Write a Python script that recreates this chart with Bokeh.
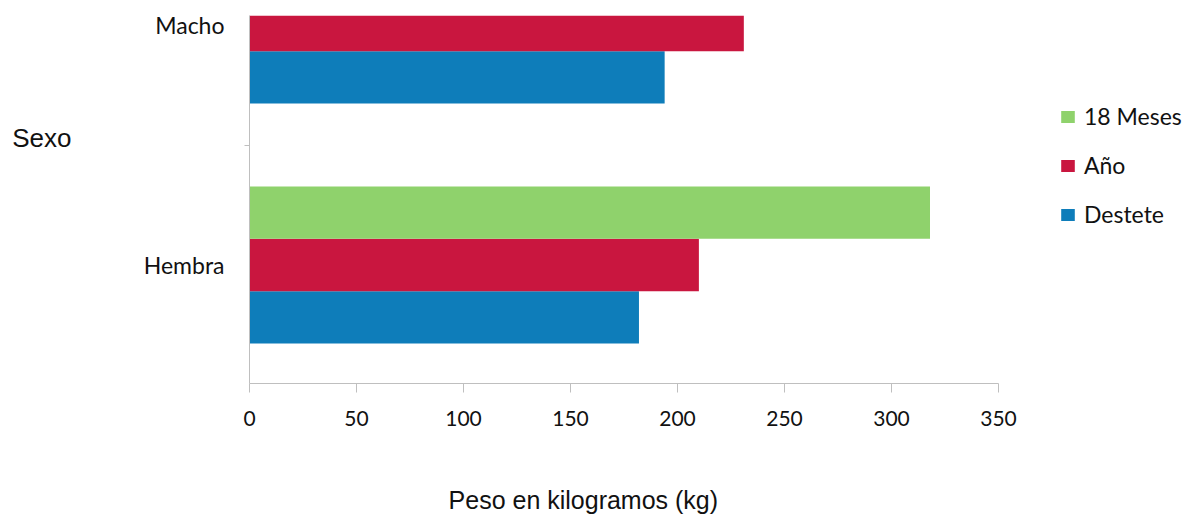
import numpy as np
from bokeh.plotting import figure
from bokeh.models import Range1d, FixedTicker, Legend, LegendItem, LinearAxis
from bokeh.embed import file_html
from bokeh.resources import INLINE

# ---- data ----
categories = ["Hembra", "Macho"]
destete = [182, 194]
anio = [210, 231]
meses18 = [318, float("nan")]  # Macho value lies outside the visible area
x_ticks = [0, 50, 100, 150, 200, 250, 300, 350]
y_title = "Sexo"
x_title = "Peso en kilogramos (kg)"

GREEN = "#8FD26C"
RED = "#C9163F"
BLUE = "#0E7DBA"
CAL = "Lato"
ARIAL = "Liberation Sans"

p = figure(width=1191, height=517, output_backend="svg", toolbar_location=None,
           x_range=Range1d(0, 440.2), y_range=Range1d(-0.494, 1.040),
           min_border_left=249, min_border_right=0, min_border_top=15,
           min_border_bottom=134)
p.outline_line_color = None
p.xgrid.visible = False
p.ygrid.visible = False
p.background_fill_color = "white"
p.border_fill_color = "white"

idx = np.arange(len(categories))
bh = 0.218
r_d = p.hbar(y=idx - bh, left=0, right=destete, height=bh, fill_color=BLUE, line_color=None)
r_a = p.hbar(y=idx, left=0, right=anio, height=bh, fill_color=RED, line_color=None)
r_m = p.hbar(y=idx + bh, left=0, right=meses18, height=bh, fill_color=GREEN, line_color=None)

# x axis
xa = p.xaxis[0]
xa.ticker = FixedTicker(ticks=x_ticks)
xa.bounds = (0, 350)
xa.axis_line_color = "#BFBFBF"
xa.major_tick_line_color = "#BFBFBF"
xa.major_tick_out = 9
xa.major_tick_in = 0
xa.minor_tick_out = 0
xa.minor_tick_in = 0
xa.major_label_text_font = CAL
xa.major_label_text_font_size = "21px"
xa.major_label_text_color = "#111111"
xa.major_label_standoff = 18

# y axis
ya = p.yaxis[0]
ya.ticker = FixedTicker(ticks=list(idx), minor_ticks=[-0.5, 0.5])
ya.major_label_overrides = {int(i): c for i, c in zip(idx, categories)}
ya.axis_line_color = "#BFBFBF"
ya.major_tick_out = 0
ya.major_tick_in = 0
ya.minor_tick_line_color = "#BFBFBF"
ya.minor_tick_out = 5
ya.minor_tick_in = 0
ya.major_label_text_font = CAL
ya.major_label_text_font_size = "23px"
ya.major_label_text_color = "#111111"
ya.major_label_standoff = 20

# "Sexo": horizontal text carried by an extra, line-less left axis
SEXO_Y = 0.53
sexo_axis = LinearAxis(ticker=FixedTicker(ticks=[SEXO_Y]),
                       major_label_overrides={SEXO_Y: y_title},
                       axis_line_color=None, major_tick_line_color=None,
                       minor_tick_line_color=None,
                       major_label_text_font=ARIAL, major_label_text_font_size="26px",
                       major_label_text_color="#111111", major_label_standoff=63)
p.add_layout(sexo_axis, "left")

# x title carried by an extra, line-less bottom axis
PESO_X = 156
peso_axis = LinearAxis(ticker=FixedTicker(ticks=[PESO_X]),
                       major_label_overrides={PESO_X: x_title},
                       axis_line_color=None, major_tick_line_color=None,
                       minor_tick_line_color=None,
                       major_label_text_font=ARIAL, major_label_text_font_size="25px",
                       major_label_text_color="#111111", major_label_standoff=51)
p.add_layout(peso_axis, "below")

legend = Legend(items=[LegendItem(label="18 Meses", renderers=[r_m]),
                       LegendItem(label="Año", renderers=[r_a]),
                       LegendItem(label="Destete", renderers=[r_d])],
                location=(810, 154), orientation="vertical",
                glyph_width=17, glyph_height=15, label_height=30, spacing=19,
                padding=0, margin=0, label_standoff=8,
                border_line_alpha=0, background_fill_alpha=0,
                label_text_font=CAL, label_text_font_size="23px",
                label_text_color="#111111")
p.add_layout(legend)

open("out.html", "w").write(file_html(p, INLINE))
